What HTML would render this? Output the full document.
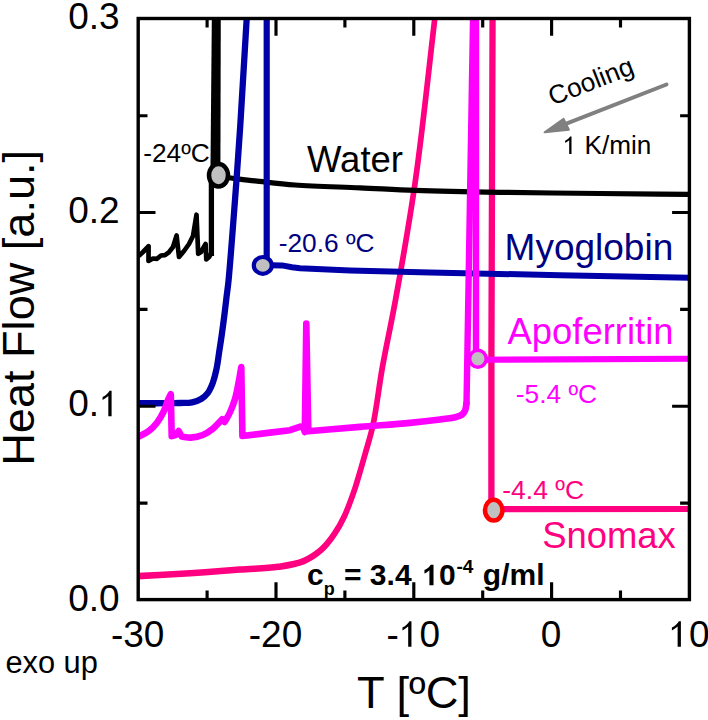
<!DOCTYPE html>
<html><head><meta charset="utf-8"><title>Heat Flow</title>
<style>
html,body{margin:0;padding:0;background:#fff;}
body{width:708px;height:720px;overflow:hidden;}
svg{display:block;font-family:"Liberation Sans",sans-serif;}
</style></head><body>
<svg width="708" height="720" viewBox="0 0 708 720">
<rect width="708" height="720" fill="#fff"/>
<defs><clipPath id="pc"><rect x="138.2" y="18.5" width="551.2" height="581.1"/></clipPath></defs>
<g clip-path="url(#pc)" fill="none">
<path transform="scale(1 1.15)" d="M138.0 501.0 C155.3 500.2 172.8 499.4 190.0 498.4 C206.8 497.5 224.5 496.3 240.0 495.3 C253.6 494.4 266.7 494.3 278.1 492.9 C287.5 491.7 296.1 490.7 303.6 487.9 C310.3 485.5 316.2 482.0 321.4 478.0 C326.3 474.2 330.3 469.5 334.1 464.7 C337.9 459.9 341.0 455.1 344.2 449.2 C348.0 442.2 351.5 433.6 354.9 424.9 C358.6 415.2 362.2 403.6 365.4 393.9 C368.2 385.3 370.6 379.2 373.0 369.6 C376.4 356.0 378.8 337.1 382.3 319.8 C386.2 301.0 390.8 283.3 395.5 260.9 C401.7 231.1 409.3 194.4 415.5 156.5 C422.9 111.6 429.0 58.0 435.8 8.7" stroke="#ff0080" stroke-width="5.7"/>
<path d="M689.5 509 L493.5 509.2" stroke="#ff0080" stroke-width="6.2"/>
<path d="M491.4 512 L491.4 360 L492.6 10" stroke="#ff0080" stroke-width="6.3"/>
<path d="M689.0 194.4 C659.3 194.1 630.5 193.8 600.0 193.5 C567.6 193.1 532.0 192.9 500.0 192.3 C470.5 191.8 440.3 191.2 415.0 190.3 C394.7 189.6 379.1 188.6 360.0 187.8 C339.2 186.9 314.0 186.4 295.0 185.0 C280.0 183.9 267.3 182.2 255.0 180.9 C244.6 179.8 235.7 178.6 226.0 177.5" stroke="#000000" stroke-width="5.2"/>
<path d="M211.9 10 L220.8 10 L220.4 176 L210.4 176 Z" fill="#000000"/>
<path d="M139.5 255.3 L143.0 252.0 L148.6 246.2 L148.5 261.0 L153.0 258.5 L157.0 258.8 L161.0 255.5 L165.0 255.2 L168.8 252.4 L173.0 247.0 L176.6 235.4 L179.0 257.0 L184.0 251.0 L189.0 244.0 L193.0 236.0 L196.5 214.7 L198.2 253.8 L201.0 252.0 L205.6 244.0 L206.3 259.3 L209.2 257.0 L211.3 253.0" stroke="#000000" stroke-width="4.7" stroke-linejoin="round" stroke-linecap="round"/>
<path d="M211.4 256 L211.4 180" stroke="#000000" stroke-width="5.3"/>
<path d="M138.0 403.2 C147.0 403.2 157.3 403.3 165.0 403.2 C170.7 403.2 175.3 403.2 180.0 403.0 C184.3 402.8 188.5 403.1 192.2 402.3 C195.5 401.6 198.5 400.6 201.1 399.0 C203.7 397.4 206.0 395.3 207.9 392.8 C209.9 390.1 211.3 386.7 212.7 383.1 C214.2 379.0 215.4 374.2 216.4 369.5 C217.5 364.5 218.1 359.4 218.9 353.9 C219.8 347.8 220.9 341.0 221.8 334.5 C222.7 328.0 223.6 321.5 224.4 315.0 C225.2 308.5 226.0 301.7 226.7 295.6 C227.4 290.1 227.9 287.2 228.6 280.0 C230.2 263.7 233.0 226.2 235.0 200.0 C236.9 174.6 238.5 152.7 240.3 125.0 C242.5 90.8 244.9 48.3 247.2 10.0" stroke="#0000a8" stroke-width="6.3"/>
<path d="M689.5 277.7 L560.0 275.2 L430.0 272.5 L350.0 270.4 L300.0 268.2 L292.0 267.2 L282.0 265.4 L270.0 265.2" stroke="#0000a8" stroke-width="6" stroke-linejoin="round"/>
<path d="M266.7 266 L266.7 10" stroke="#0000a8" stroke-width="6.2"/>
<path d="M138.0 437.1 C141.5 435.1 145.4 433.6 148.6 431.2 C151.8 428.8 154.5 425.9 157.0 422.7 C159.6 419.3 161.9 415.2 163.8 411.3 C165.6 407.6 166.7 403.1 168.0 400.0 C169.0 397.7 169.9 396.1 170.8 394.2 L171.7 436.2 L175.5 435.0 L178.7 431.0 L181.6 436.5 C184.7 436.9 187.6 437.8 190.9 437.6 C194.6 437.4 199.1 436.5 202.8 435.0 C206.5 433.5 209.8 431.2 213.0 428.6 C216.3 425.9 219.2 422.3 222.3 419.2 L224.6 422.0 C226.4 418.8 228.3 416.0 229.9 412.5 C231.8 408.5 233.6 403.8 235.0 399.0 C236.6 393.7 237.6 387.5 238.7 382.0 C239.7 376.9 240.4 372.1 241.3 367.1 L242.4 436.0 L270.0 432.6 L290.0 430.2 L300.4 426.6 L303.5 427.5 L304.8 432.0 L306.3 323.5 L308.3 431.3 C325.5 429.8 342.9 428.3 360.0 426.9 C376.8 425.5 395.5 424.3 410.0 422.9 C421.3 421.8 431.5 420.6 440.0 419.5 C446.3 418.7 452.3 418.1 456.3 417.0 C458.7 416.3 460.5 415.8 462.0 414.6 C463.5 413.4 464.6 411.8 465.3 410.0 C466.1 408.0 466.1 405.3 466.5 403.0" stroke="#ff00ff" stroke-width="6.6" stroke-linejoin="round" stroke-linecap="round"/>
<path d="M466.5 405 L473.2 10" stroke="#ff00ff" stroke-width="6.4"/>
<path d="M306.3 323.5 L306.5 432" stroke="#ff00ff" stroke-width="5"/>
<path d="M476 10 L476 358" stroke="#ff00ff" stroke-width="6.4"/>
<path d="M689.5 358.8 L560 359.4 L478 359.7" stroke="#ff00ff" stroke-width="6.1"/>
</g>
<rect x="138.2" y="18.5" width="551.2" height="581.1" fill="none" stroke="#000" stroke-width="3.4"/>
<path d="M207.1 599.6 v-9.0 M207.1 18.5 v9.0 M276.0 599.6 v-17.3 M276.0 18.5 v17.3 M344.9 599.6 v-9.0 M344.9 18.5 v9.0 M413.8 599.6 v-17.3 M413.8 18.5 v17.3 M482.7 599.6 v-9.0 M482.7 18.5 v9.0 M551.6 599.6 v-17.3 M551.6 18.5 v17.3 M620.5 599.6 v-9.0 M620.5 18.5 v9.0 M138.2 503.1 h9.3 M689.4 503.1 h-9.3 M138.2 406.2 h17.3 M689.4 406.2 h-17.3 M138.2 309.4 h9.3 M689.4 309.4 h-9.3 M138.2 212.5 h17.3 M689.4 212.5 h-17.3 M138.2 115.7 h9.3 M689.4 115.7 h-9.3 " fill="none" stroke="#000" stroke-width="3.15"/>
<ellipse cx="218.5" cy="175.3" rx="9.5" ry="11.2" fill="#c0c0c0" stroke="#000000" stroke-width="4.5"/>
<ellipse cx="262.8" cy="265.4" rx="9" ry="8.4" fill="#c0c0c0" stroke="#0000a8" stroke-width="4.2"/>
<ellipse cx="477.9" cy="358.7" rx="8.3" ry="8.5" fill="#c0c0c0" stroke="#ff00ff" stroke-width="3.4"/>
<ellipse cx="493.7" cy="510.2" rx="8.7" ry="10.4" fill="#c0c0c0" stroke="#ff0000" stroke-width="4.5"/>
<path d="M666.5 84.5 L560 126.2" stroke="#808080" stroke-width="4.0" fill="none" stroke-linecap="round"/>
<path d="M544.6 132.3 L563.6 118.9 L568.9 129.7 Z" fill="#808080" stroke="#808080" stroke-width="2" stroke-linejoin="round"/>
<g transform="translate(137.70 646.80) translate(-26.74 0)" font-size="37" fill="#000"><text x="0.00" y="0" xml:space="preserve">-30</text></g>
<g transform="translate(275.50 646.80) translate(-26.74 0)" font-size="37" fill="#000"><text x="0.00" y="0" xml:space="preserve">-20</text></g>
<g transform="translate(413.30 646.80) translate(-26.74 0)" font-size="37" fill="#000"><text x="0.00" y="0" xml:space="preserve">-</text><path transform="translate(12.32 0) scale(0.01807 -0.01807)" d="M515 0V1118Q452 1058 352 996T197 903V1072Q335 1140 440 1238T582 1409H696V0Z"/><text x="32.90" y="0" xml:space="preserve">0</text></g>
<g transform="translate(551.10 646.80) translate(-10.29 0)" font-size="37" fill="#000"><text x="0.00" y="0" xml:space="preserve">0</text></g>
<g transform="translate(688.90 646.80) translate(-20.58 0)" font-size="37" fill="#000"><path transform="translate(0.00 0) scale(0.01807 -0.01807)" d="M515 0V1118Q452 1058 352 996T197 903V1072Q335 1140 440 1238T582 1409H696V0Z"/><text x="20.58" y="0" xml:space="preserve">0</text></g>
<g transform="translate(119.60 611.20) translate(-51.44 0)" font-size="37" fill="#000"><text x="0.00" y="0" xml:space="preserve">0.0</text></g>
<g transform="translate(119.60 416.30) translate(-51.44 0)" font-size="37" fill="#000"><text x="0.00" y="0" xml:space="preserve">0.</text><path transform="translate(30.86 0) scale(0.01807 -0.01807)" d="M515 0V1118Q452 1058 352 996T197 903V1072Q335 1140 440 1238T582 1409H696V0Z"/></g>
<g transform="translate(119.60 222.60) translate(-51.44 0)" font-size="37" fill="#000"><text x="0.00" y="0" xml:space="preserve">0.2</text></g>
<g transform="translate(119.60 29.00) translate(-51.44 0)" font-size="37" fill="#000"><text x="0.00" y="0" xml:space="preserve">0.3</text></g>
<g transform="translate(414.00 707.80) scale(1.030 1) translate(-55.30 0)" font-size="44" fill="#000"><text x="0.00" y="0" xml:space="preserve">T [ºC]</text></g>
<g transform="translate(34.40 307.80) rotate(-90) scale(1.025 1) translate(-154.06 0)" font-size="44" fill="#000"><text x="0.00" y="0" xml:space="preserve">Heat Flow [a.u.]</text></g>
<g transform="translate(5.40 673.20) translate(0.00 0)" font-size="30.8" fill="#000"><text x="0.00" y="0" xml:space="preserve">exo up</text></g>
<g transform="translate(307.00 171.80) translate(0.00 0)" font-size="36.5" fill="#000"><text x="0.00" y="0" xml:space="preserve">Water</text></g>
<g transform="translate(504.60 260.20) translate(0.00 0)" font-size="37" fill="#000080"><text x="0.00" y="0" xml:space="preserve">Myoglobin</text></g>
<g transform="translate(507.60 343.80) translate(0.00 0)" font-size="36.4" fill="#ff00ff"><text x="0.00" y="0" xml:space="preserve">Apoferritin</text></g>
<g transform="translate(542.30 548.00) translate(0.00 0)" font-size="36.4" fill="#ff0080"><text x="0.00" y="0" xml:space="preserve">Snomax</text></g>
<g transform="translate(143.20 162.00) translate(0.00 0)" font-size="26.3" fill="#000"><text x="0.00" y="0" xml:space="preserve">-24ºC</text></g>
<g transform="translate(278.70 251.70) translate(0.00 0)" font-size="26.3" fill="#000080"><text x="0.00" y="0" xml:space="preserve">-20.6 ºC</text></g>
<g transform="translate(515.80 402.80) translate(0.00 0)" font-size="26.3" fill="#ff00ff"><text x="0.00" y="0" xml:space="preserve">-5.4 ºC</text></g>
<g transform="translate(502.20 498.90) translate(0.00 0)" font-size="26.5" fill="#ff0080"><text x="0.00" y="0" xml:space="preserve">-4.4 ºC</text></g>
<g transform="translate(607.00 154.00) scale(1.035 1) translate(-42.89 0)" font-size="25.3" fill="#000"><path transform="translate(0.00 0) scale(0.01235 -0.01235)" d="M515 0V1118Q452 1058 352 996T197 903V1072Q335 1140 440 1238T582 1409H696V0Z"/><text x="14.07" y="0" xml:space="preserve"> K/min</text></g>
<g transform="translate(594.00 89.50) rotate(-21.4) translate(-44.59 0)" font-size="26.3" fill="#000"><text x="0.00" y="0" xml:space="preserve">Cooling</text></g>
<g transform="translate(307.00 585.30) translate(0.00 0)" font-size="30" fill="#000" font-weight="bold"><text x="0.00" y="0" xml:space="preserve">c</text></g>
<g transform="translate(323.68 595.30) translate(0.00 0)" font-size="18" fill="#000" font-weight="bold"><text x="0.00" y="0" xml:space="preserve">p</text></g>
<g transform="translate(335.68 585.30) translate(0.00 0)" font-size="30" fill="#000" font-weight="bold"><text x="0.00" y="0" xml:space="preserve"> = 3.4</text></g>
<g transform="translate(414.07 585.30) translate(0.00 0)" font-size="30" fill="#000" font-weight="bold"><text x="0.00" y="0" xml:space="preserve"> </text><path transform="translate(8.33 0) scale(0.01465 -0.01465)" d="M478 0V1026Q404 952 312 892T140 800V1040Q282 1102 398 1204T566 1409H759V0Z"/><text x="25.02" y="0" xml:space="preserve">0</text></g>
<g transform="translate(456.38 573.30) translate(0.00 0)" font-size="19" fill="#000" font-weight="bold"><text x="0.00" y="0" xml:space="preserve">-4</text></g>
<g transform="translate(474.47 585.30) translate(0.00 0)" font-size="30" fill="#000" font-weight="bold"><text x="0.00" y="0" xml:space="preserve"> g/ml</text></g>
</svg>
</body></html>
